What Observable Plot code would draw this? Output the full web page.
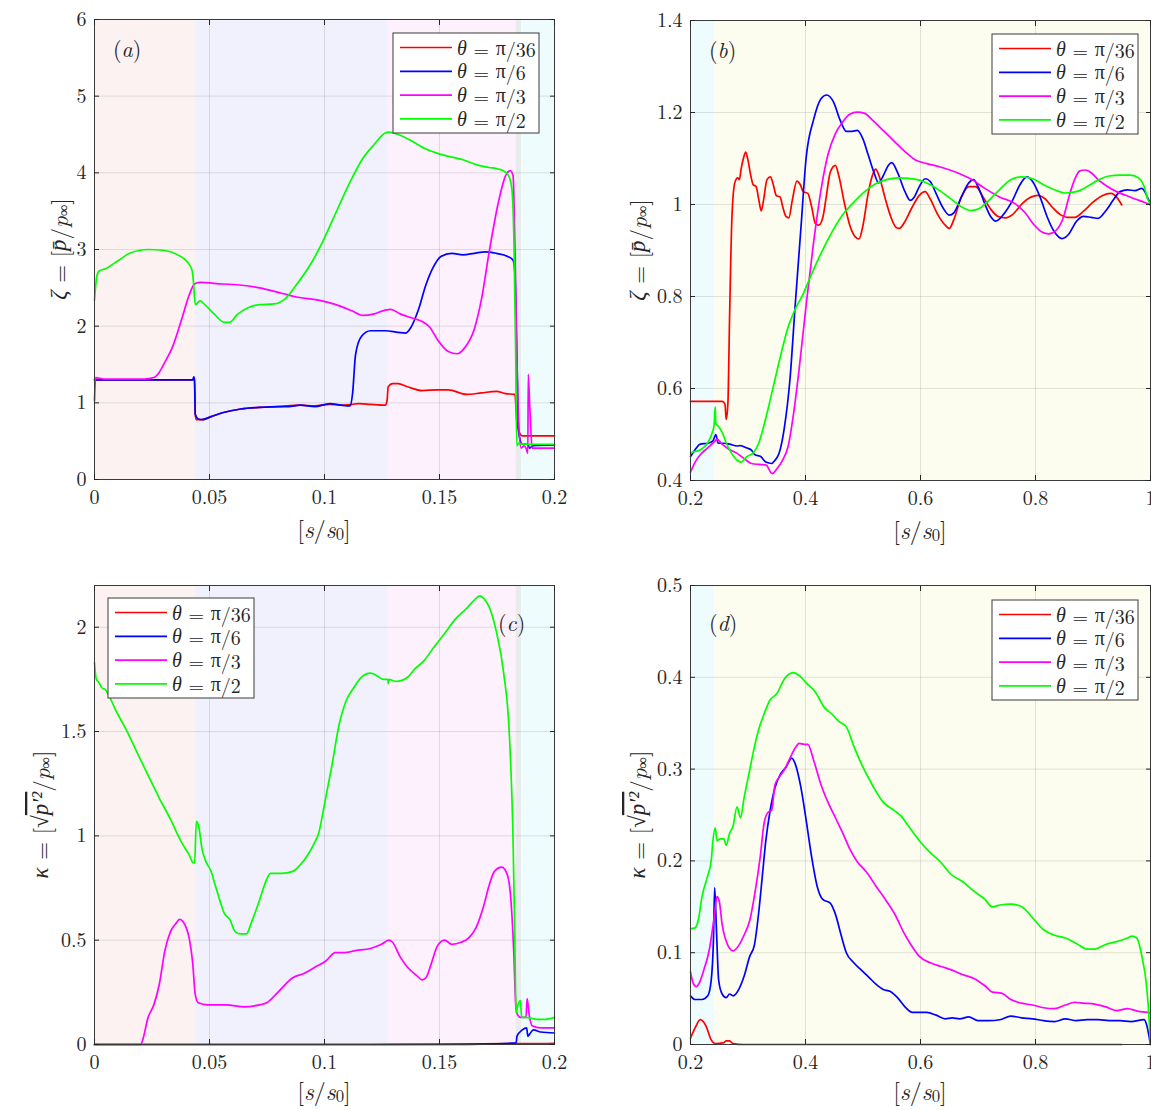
<!DOCTYPE html>
<html><head><meta charset="utf-8">
<script src="https://cdn.jsdelivr.net/npm/d3@7"></script>
<script src="https://cdn.jsdelivr.net/npm/@observablehq/plot@0.6"></script>
<style>
body{margin:0;background:#fff;}
#wrap{position:relative;width:1151px;height:1110px;overflow:hidden;}
#wrap svg{position:absolute;}
</style></head><body><div id="wrap"></div>
<script>
const FONT = "'Latin Modern Roman', 'Liberation Serif', serif";
const GREEK = "'Liberation Serif', serif";
const seriesLabels = ["π/36", "π/6", "π/3", "π/2"];
const seriesColors = ["#ff0000", "#0000ff", "#ff00ff", "#00ff00"];

// x ticks / y ticks
const xTicksLeft = [0, 0.05, 0.1, 0.15, 0.2];
const xTicksRight = [0.2, 0.4, 0.6, 0.8, 1];
const yTicksA = [0, 1, 2, 3, 4, 5, 6];
const yTicksB = [0.4, 0.6, 0.8, 1, 1.2, 1.4];
const yTicksC = [0, 0.5, 1, 1.5, 2];
const yTicksD = [0, 0.1, 0.2, 0.3, 0.4, 0.5];

// background regions [x1, x2, colour]
const regionsLeft = [
  {x1: 0, x2: 0.0438, fill: "#fdf2f2"},
  {x1: 0.0438, x2: 0.1277, fill: "#f1f1fd"},
  {x1: 0.1277, x2: 0.1833, fill: "#fdf1fd"},
  {x1: 0.1833, x2: 0.1857, fill: "#e8ecec"},
  {x1: 0.1857, x2: 0.2, fill: "#effcfd"}
];
const regionsRight = [
  {x1: 0.2, x2: 0.2425, fill: "#effcfd"},
  {x1: 0.2425, x2: 1, fill: "#fdfdef"}
];

// ---- Panel (a): zeta, s in [0, 0.2]
const aRed = [[0,1.30],[0.0427,1.30],[0.0435,1.30],[0.0438,0.85],[0.0443,0.78],[0.0467,0.78],[0.0507,0.82],[0.0556,0.87],[0.0636,0.92],[0.0717,0.94],[0.0797,0.95],[0.0894,0.97],[0.0958,0.96],[0.1023,0.98],[0.1071,0.97],[0.1119,0.98],[0.115,0.99],[0.12,0.98],[0.1264,0.97],[0.1272,1.03],[0.1277,1.21],[0.1296,1.25],[0.132,1.25],[0.1361,1.21],[0.1425,1.16],[0.149,1.17],[0.1538,1.17],[0.1618,1.11],[0.1683,1.13],[0.1747,1.15],[0.1787,1.12],[0.1828,1.11],[0.1836,0.76],[0.1844,0.64],[0.186,0.57],[0.2,0.57]];
const aBlue = [[0,1.30],[0.0427,1.30],[0.0432,1.34],[0.0435,1.30],[0.0438,0.85],[0.0451,0.79],[0.0467,0.78],[0.0507,0.82],[0.0556,0.87],[0.0636,0.92],[0.0717,0.94],[0.0797,0.95],[0.0845,0.95],[0.0894,0.97],[0.0958,0.95],[0.1023,0.99],[0.1071,0.97],[0.1111,0.96],[0.1122,1.12],[0.1135,1.63],[0.1159,1.86],[0.12,1.94],[0.1264,1.94],[0.132,1.92],[0.1353,1.91],[0.1377,1.99],[0.1409,2.22],[0.1441,2.54],[0.1473,2.77],[0.1506,2.91],[0.1554,2.95],[0.1602,2.93],[0.1651,2.95],[0.1699,2.97],[0.1747,2.95],[0.1796,2.91],[0.182,2.86],[0.1828,2.68],[0.1836,1.67],[0.1844,0.62],[0.186,0.46],[0.1884,0.46],[0.1892,0.41],[0.1908,0.44],[0.2,0.45]];
const aMagenta = [[0,1.03],[0.0005,1.33],[0.004,1.31],[0.0217,1.31],[0.0258,1.33],[0.0282,1.40],[0.0306,1.53],[0.0338,1.72],[0.0378,2.08],[0.0411,2.40],[0.0435,2.55],[0.0459,2.57],[0.0556,2.55],[0.062,2.54],[0.0717,2.50],[0.0813,2.43],[0.0878,2.38],[0.0974,2.34],[0.1039,2.29],[0.1119,2.20],[0.1167,2.14],[0.1216,2.16],[0.1264,2.21],[0.1288,2.22],[0.1329,2.16],[0.1377,2.11],[0.1425,2.06],[0.1457,1.99],[0.149,1.83],[0.1538,1.67],[0.1578,1.64],[0.161,1.72],[0.165,1.95],[0.1683,2.36],[0.1715,2.95],[0.1755,3.60],[0.1787,3.96],[0.1808,4.03],[0.182,3.96],[0.1828,3.05],[0.1836,1.67],[0.1844,0.76],[0.1855,0.41],[0.1868,0.44],[0.1876,0.41],[0.1884,0.34],[0.1886,1.37],[0.1892,0.98],[0.1903,0.41],[0.2,0.41]];
const aGreen = [[0,2.34],[0.001,2.65],[0.002,2.72],[0.0048,2.75],[0.0105,2.86],[0.0153,2.95],[0.0233,3.0],[0.0298,2.99],[0.0362,2.93],[0.0403,2.84],[0.0424,2.73],[0.043,2.59],[0.0438,2.28],[0.0459,2.33],[0.0483,2.27],[0.0523,2.15],[0.0564,2.05],[0.0588,2.05],[0.062,2.15],[0.0668,2.24],[0.0717,2.28],[0.0781,2.29],[0.083,2.36],[0.0878,2.54],[0.0942,2.82],[0.099,3.09],[0.1039,3.41],[0.1103,3.83],[0.1167,4.19],[0.1216,4.37],[0.1264,4.52],[0.1277,4.53],[0.1329,4.49],[0.1377,4.42],[0.1441,4.31],[0.1506,4.24],[0.1602,4.17],[0.1667,4.10],[0.1715,4.07],[0.1755,4.05],[0.1787,4.01],[0.1804,3.94],[0.1815,3.78],[0.1824,3.05],[0.1831,1.67],[0.1836,0.44],[0.1844,0.47],[0.186,0.46],[0.2,0.46]];

// ---- Panel (b): zeta, s in [0.2, 1]
const bRed = [[0.2,0.572],[0.255,0.572],[0.26,0.566],[0.262,0.533],[0.265,0.566],[0.268,0.757],[0.272,0.97],[0.277,1.047],[0.282,1.058],[0.285,1.054],[0.288,1.077],[0.292,1.1],[0.296,1.114],[0.3,1.096],[0.305,1.062],[0.309,1.043],[0.314,1.039],[0.319,1.009],[0.323,0.986],[0.327,1.009],[0.333,1.054],[0.339,1.06],[0.344,1.043],[0.349,1.02],[0.356,1.016],[0.36,0.997],[0.366,0.974],[0.371,0.971],[0.377,1.009],[0.385,1.051],[0.391,1.043],[0.396,1.028],[0.404,1.024],[0.411,0.993],[0.417,0.959],[0.423,0.955],[0.43,0.971],[0.436,1.016],[0.443,1.07],[0.452,1.085],[0.458,1.062],[0.468,1.001],[0.477,0.955],[0.487,0.929],[0.493,0.925],[0.5,0.955],[0.509,1.024],[0.516,1.062],[0.522,1.077],[0.528,1.062],[0.538,1.016],[0.547,0.978],[0.557,0.951],[0.563,0.948],[0.573,0.963],[0.585,0.993],[0.598,1.02],[0.608,1.028],[0.617,1.012],[0.63,0.978],[0.643,0.955],[0.65,0.948],[0.658,0.967],[0.671,1.016],[0.684,1.039],[0.696,1.039],[0.709,1.016],[0.722,0.99],[0.735,0.974],[0.748,0.971],[0.76,0.978],[0.776,1.001],[0.792,1.016],[0.804,1.02],[0.817,1.012],[0.83,0.993],[0.843,0.978],[0.855,0.972],[0.868,0.972],[0.884,0.986],[0.9,1.005],[0.916,1.019],[0.931,1.024],[0.941,1.016],[0.95,0.999]];
const bBlue = [[0.2,0.452],[0.208,0.467],[0.217,0.479],[0.23,0.481],[0.239,0.486],[0.244,0.5],[0.248,0.481],[0.258,0.481],[0.268,0.479],[0.281,0.475],[0.287,0.476],[0.297,0.471],[0.306,0.466],[0.312,0.456],[0.322,0.452],[0.331,0.44],[0.341,0.437],[0.347,0.444],[0.354,0.459],[0.363,0.513],[0.373,0.62],[0.382,0.78],[0.392,0.948],[0.401,1.1],[0.414,1.184],[0.427,1.23],[0.437,1.238],[0.449,1.222],[0.46,1.184],[0.471,1.159],[0.481,1.159],[0.49,1.161],[0.5,1.142],[0.509,1.108],[0.519,1.07],[0.527,1.047],[0.535,1.062],[0.544,1.085],[0.55,1.091],[0.56,1.07],[0.573,1.028],[0.582,1.009],[0.589,1.016],[0.598,1.039],[0.608,1.056],[0.617,1.05],[0.627,1.024],[0.639,0.993],[0.65,0.977],[0.658,0.982],[0.671,1.016],[0.684,1.047],[0.692,1.054],[0.7,1.039],[0.712,1.001],[0.722,0.974],[0.731,0.964],[0.744,0.978],[0.76,1.009],[0.773,1.043],[0.785,1.06],[0.795,1.05],[0.808,1.016],[0.82,0.974],[0.833,0.94],[0.846,0.926],[0.858,0.936],[0.871,0.963],[0.884,0.974],[0.897,0.972],[0.909,0.97],[0.922,0.986],[0.935,1.009],[0.947,1.028],[0.96,1.032],[0.973,1.03],[0.985,1.035],[0.99,1.028],[0.996,1.012],[1.0,1.001]];
const bMagenta = [[0.2,0.418],[0.208,0.44],[0.217,0.456],[0.23,0.471],[0.243,0.486],[0.246,0.49],[0.255,0.479],[0.268,0.467],[0.281,0.459],[0.293,0.448],[0.306,0.437],[0.319,0.435],[0.331,0.434],[0.342,0.415],[0.35,0.425],[0.36,0.444],[0.37,0.475],[0.379,0.543],[0.389,0.643],[0.401,0.78],[0.414,0.917],[0.427,1.032],[0.439,1.108],[0.452,1.154],[0.465,1.18],[0.477,1.196],[0.49,1.201],[0.503,1.198],[0.516,1.184],[0.535,1.161],[0.554,1.138],[0.573,1.115],[0.592,1.096],[0.611,1.089],[0.636,1.081],[0.662,1.07],[0.687,1.056],[0.712,1.035],[0.738,1.016],[0.763,1.003],[0.782,0.982],[0.798,0.955],[0.811,0.94],[0.823,0.936],[0.836,0.944],[0.849,0.974],[0.858,1.016],[0.868,1.054],[0.877,1.073],[0.887,1.075],[0.897,1.069],[0.909,1.054],[0.925,1.039],[0.941,1.028],[0.957,1.02],[0.973,1.012],[0.989,1.005],[1.0,0.999]];
const bGreen = [[0.2,0.46],[0.208,0.463],[0.217,0.467],[0.23,0.482],[0.238,0.505],[0.241,0.52],[0.243,0.56],[0.244,0.524],[0.249,0.517],[0.255,0.505],[0.262,0.482],[0.271,0.46],[0.281,0.444],[0.288,0.44],[0.298,0.452],[0.309,0.46],[0.319,0.482],[0.331,0.536],[0.344,0.604],[0.357,0.673],[0.37,0.734],[0.382,0.772],[0.395,0.803],[0.408,0.841],[0.427,0.894],[0.446,0.94],[0.465,0.978],[0.484,1.005],[0.503,1.028],[0.522,1.045],[0.541,1.054],[0.56,1.058],[0.579,1.057],[0.598,1.053],[0.617,1.043],[0.636,1.028],[0.655,1.01],[0.674,0.993],[0.687,0.987],[0.7,0.99],[0.719,1.009],[0.738,1.033],[0.757,1.054],[0.776,1.06],[0.795,1.056],[0.814,1.043],[0.833,1.032],[0.852,1.025],[0.871,1.028],[0.89,1.039],[0.909,1.053],[0.928,1.062],[0.947,1.064],[0.966,1.064],[0.979,1.058],[0.989,1.039],[0.995,1.012],[1.0,1.001]];

// ---- Panel (c): kappa, s in [0, 0.2]
const cRed = [[0,0],[0.12,0],[0.16,0.002],[0.183,0.004],[0.19,0.004],[0.2,0.006]];
const cBlue = [[0,0],[0.15,0],[0.175,0.003],[0.1833,0.008],[0.1837,0.04],[0.186,0.07],[0.1879,0.08],[0.1884,0.04],[0.1892,0.05],[0.1908,0.07],[0.194,0.06],[0.2,0.055]];
const cMagenta = [[0,0],[0.0201,0],[0.0209,0.02],[0.0233,0.13],[0.0258,0.19],[0.0282,0.29],[0.0306,0.45],[0.033,0.54],[0.0354,0.58],[0.037,0.60],[0.0395,0.57],[0.0415,0.49],[0.0427,0.39],[0.0438,0.24],[0.0451,0.20],[0.0491,0.19],[0.0572,0.19],[0.0652,0.18],[0.0717,0.19],[0.0749,0.20],[0.0797,0.25],[0.0862,0.32],[0.091,0.34],[0.0958,0.37],[0.1006,0.40],[0.1047,0.44],[0.1087,0.44],[0.1135,0.45],[0.12,0.46],[0.1248,0.48],[0.128,0.50],[0.1296,0.49],[0.1329,0.42],[0.1361,0.37],[0.1401,0.33],[0.1425,0.31],[0.1441,0.32],[0.1465,0.39],[0.149,0.47],[0.1522,0.50],[0.1554,0.48],[0.1594,0.49],[0.1626,0.51],[0.1659,0.56],[0.1691,0.66],[0.1715,0.76],[0.1739,0.83],[0.1771,0.85],[0.1796,0.81],[0.1812,0.67],[0.1823,0.44],[0.1831,0.20],[0.1836,0.15],[0.1852,0.13],[0.1876,0.13],[0.1881,0.22],[0.1889,0.15],[0.1903,0.09],[0.194,0.08],[0.2,0.08]];
const cGreen = [[0,1.83],[0.0008,1.75],[0.0016,1.74],[0.0032,1.71],[0.0048,1.70],[0.0064,1.67],[0.0089,1.61],[0.0137,1.51],[0.0185,1.40],[0.0233,1.29],[0.0282,1.18],[0.033,1.08],[0.0378,0.97],[0.0411,0.91],[0.043,0.87],[0.0435,0.87],[0.0443,1.07],[0.0454,1.04],[0.0467,0.94],[0.0483,0.88],[0.0507,0.83],[0.0523,0.77],[0.0548,0.68],[0.0564,0.63],[0.0588,0.60],[0.0612,0.54],[0.0636,0.53],[0.066,0.53],[0.0684,0.59],[0.0717,0.69],[0.0741,0.77],[0.0765,0.82],[0.0813,0.82],[0.0862,0.83],[0.0894,0.86],[0.0934,0.92],[0.0958,0.97],[0.0974,1.01],[0.0998,1.14],[0.1031,1.33],[0.1063,1.53],[0.1095,1.65],[0.1127,1.71],[0.116,1.76],[0.12,1.78],[0.1224,1.77],[0.1256,1.75],[0.1275,1.75],[0.1277,1.73],[0.128,1.75],[0.1312,1.74],[0.1361,1.76],[0.1393,1.80],[0.1433,1.84],[0.1473,1.90],[0.1522,1.97],[0.157,2.04],[0.1618,2.09],[0.1651,2.13],[0.1675,2.15],[0.1691,2.14],[0.1715,2.10],[0.1747,1.98],[0.1779,1.78],[0.1804,1.48],[0.182,0.97],[0.1828,0.47],[0.1833,0.15],[0.1841,0.19],[0.1852,0.21],[0.1857,0.13],[0.1876,0.13],[0.1924,0.12],[0.1957,0.12],[0.2,0.13]];

// ---- Panel (d): kappa, s in [0.2, 1]
const dRed = [[0.2,0.007],[0.208,0.018],[0.217,0.027],[0.227,0.02],[0.236,0.005],[0.243,0.001],[0.258,0.002],[0.262,0.004],[0.268,0.004],[0.274,0.001],[0.293,0.0],[0.95,0.0]];
const dBlue = [[0.2,0.053],[0.208,0.049],[0.22,0.049],[0.23,0.053],[0.236,0.07],[0.24,0.116],[0.242,0.171],[0.245,0.127],[0.249,0.07],[0.255,0.055],[0.262,0.051],[0.268,0.055],[0.274,0.053],[0.284,0.06],[0.293,0.074],[0.303,0.096],[0.311,0.108],[0.319,0.146],[0.325,0.184],[0.331,0.222],[0.338,0.253],[0.347,0.28],[0.357,0.295],[0.366,0.302],[0.376,0.312],[0.382,0.306],[0.392,0.28],[0.401,0.245],[0.411,0.203],[0.42,0.173],[0.43,0.158],[0.443,0.154],[0.452,0.142],[0.462,0.119],[0.471,0.1],[0.484,0.089],[0.497,0.081],[0.509,0.074],[0.522,0.066],[0.535,0.06],[0.547,0.058],[0.56,0.051],[0.573,0.041],[0.586,0.035],[0.598,0.035],[0.611,0.035],[0.627,0.032],[0.643,0.028],[0.655,0.029],[0.668,0.028],[0.684,0.03],[0.7,0.026],[0.719,0.026],[0.738,0.027],[0.757,0.031],[0.776,0.029],[0.795,0.028],[0.814,0.026],[0.833,0.025],[0.852,0.028],[0.871,0.026],[0.89,0.027],[0.909,0.027],[0.928,0.026],[0.947,0.026],[0.966,0.025],[0.989,0.027],[0.992,0.024],[1.0,0.0]];
const dMagenta = [[0.2,0.079],[0.204,0.068],[0.21,0.063],[0.216,0.068],[0.223,0.081],[0.233,0.104],[0.241,0.138],[0.246,0.161],[0.25,0.156],[0.255,0.131],[0.265,0.108],[0.274,0.102],[0.284,0.108],[0.293,0.119],[0.303,0.135],[0.312,0.165],[0.321,0.203],[0.328,0.241],[0.335,0.253],[0.341,0.255],[0.347,0.283],[0.354,0.291],[0.363,0.299],[0.373,0.312],[0.382,0.323],[0.389,0.328],[0.398,0.327],[0.404,0.327],[0.414,0.31],[0.427,0.283],[0.439,0.264],[0.452,0.247],[0.465,0.23],[0.477,0.213],[0.49,0.199],[0.506,0.188],[0.522,0.173],[0.541,0.156],[0.557,0.14],[0.57,0.123],[0.582,0.11],[0.598,0.096],[0.617,0.089],[0.636,0.085],[0.655,0.081],[0.674,0.076],[0.693,0.072],[0.712,0.064],[0.725,0.057],[0.741,0.056],[0.757,0.049],[0.776,0.045],[0.795,0.043],[0.814,0.04],[0.833,0.039],[0.852,0.043],[0.868,0.046],[0.884,0.045],[0.903,0.044],[0.922,0.041],[0.941,0.037],[0.96,0.039],[0.979,0.036],[0.995,0.035],[1.0,0.034]];
const dGreen = [[0.2,0.126],[0.208,0.127],[0.214,0.137],[0.22,0.161],[0.23,0.184],[0.236,0.2],[0.239,0.222],[0.243,0.236],[0.246,0.222],[0.252,0.224],[0.258,0.224],[0.262,0.217],[0.268,0.23],[0.274,0.238],[0.281,0.259],[0.287,0.247],[0.293,0.268],[0.303,0.299],[0.309,0.318],[0.319,0.344],[0.328,0.36],[0.338,0.375],[0.35,0.382],[0.363,0.398],[0.379,0.405],[0.389,0.402],[0.401,0.394],[0.417,0.384],[0.433,0.367],[0.446,0.36],[0.458,0.352],[0.471,0.346],[0.484,0.325],[0.497,0.306],[0.516,0.283],[0.535,0.264],[0.554,0.255],[0.566,0.249],[0.579,0.238],[0.598,0.222],[0.617,0.209],[0.636,0.198],[0.652,0.186],[0.674,0.177],[0.693,0.167],[0.712,0.158],[0.725,0.15],[0.738,0.152],[0.757,0.153],[0.776,0.15],[0.795,0.138],[0.814,0.125],[0.833,0.119],[0.852,0.116],[0.871,0.11],[0.89,0.104],[0.903,0.104],[0.922,0.109],[0.941,0.112],[0.96,0.116],[0.968,0.118],[0.976,0.116],[0.986,0.093],[0.992,0.07],[0.996,0.043],[1.0,0.0]];

const wrap = document.getElementById("wrap");
const AX = "#262626";

function addText(g, x, y, parts, size, opts = {}) {
  const t = g.append("text").attr("x", x).attr("y", y)
    .style("font-family", FONT).attr("font-size", size).attr("fill", opts.fill || AX)
    .attr("text-anchor", opts.anchor || "start")
    .attr("dominant-baseline", "central");
  if (opts.rotate) t.attr("transform", `rotate(${opts.rotate},${x},${y})`);
  let shift = 0;
  for (const p of parts) {
    const s = t.append("tspan").text(p.t);
    if (p.i) s.attr("font-style", "italic");
    if (p.g) s.style("font-family", GREEK);
    if (p.sub) {
      const d = size * 0.22;
      s.attr("dy", d - shift).attr("font-size", size * 0.7);
      shift = d;
    } else if (shift) {
      s.attr("dy", -shift);
      shift = 0;
    }
    if (p.o) s.attr("text-decoration", "overline");
  }
  return t;
}

function makePanel(cfg) {
  const {W, H, ml, mr, mt, mb, left, top} = cfg;
  const fw = W - ml - mr, fh = H - mt - mb;
  const fmt = d => String(d);
  const lines = cfg.series.map((arr, i) => Plot.line(arr, {x: p => p[0], y: p => p[1], stroke: seriesColors[i], strokeWidth: 1.7, curve: "monotone-x"}));
  const chart = Plot.plot({
    width: W, height: H, marginLeft: ml, marginRight: mr, marginTop: mt, marginBottom: mb,
    style: {fontFamily: FONT, fontSize: "20px", color: AX, background: "white", overflow: "visible"},
    x: {domain: cfg.xDomain, label: null},
    y: {domain: cfg.yDomain, label: null},
    color: {type: "identity"},
    marks: [
      Plot.rect(cfg.regions, {x1: "x1", x2: "x2", fill: "fill"}),
      Plot.gridX(cfg.xTicks, {stroke: AX, strokeOpacity: 0.13}),
      Plot.gridY(cfg.yTicks, {stroke: AX, strokeOpacity: 0.13}),
      ...lines,
      Plot.frame({stroke: "#3a3a3a"}),
      Plot.axisX(cfg.xTicks, {anchor: "bottom", tickSize: 0, tickPadding: 10, tickFormat: fmt, label: null}),
      Plot.axisX(cfg.xTicks, {anchor: "bottom", tickSize: 5, dy: -5, fill: "none", label: null}),
      Plot.axisX(cfg.xTicks, {anchor: "top", tickSize: 5, dy: 5, fill: "none", label: null}),
      Plot.axisY(cfg.yTicks, {anchor: "left", tickSize: 0, tickPadding: 8, tickFormat: fmt, label: null}),
      Plot.axisY(cfg.yTicks, {anchor: "left", tickSize: 5, dx: 5, fill: "none", label: null}),
      Plot.axisY(cfg.yTicks, {anchor: "right", tickSize: 5, dx: -5, fill: "none", label: null})
    ]
  });
  chart.style.left = left + "px";
  chart.style.top = top + "px";
  wrap.appendChild(chart);
  const svg = d3.select(chart);
  // x title
  addText(svg, ml + fw / 2, mt + fh + cfg.xTitleDy, [{t: "["}, {t: "s", i: 1}, {t: "/"}, {t: "s", i: 1}, {t: "0", sub: 1}, {t: "]"}], 24, {anchor: "middle"});
  // y title
  addText(svg, cfg.yLabelX, mt + fh / 2, cfg.yLabel, 23, {anchor: "middle", rotate: -90});
  // panel tag
  addText(svg, ml + cfg.tag[1], mt + cfg.tag[2], [{t: "("}, {t: cfg.tag[0], i: 1}, {t: ")"}], 22);
  // legend
  const lg = svg.append("g").attr("transform", `translate(${ml + cfg.legend[0]},${mt + cfg.legend[1]})`);
  lg.append("rect").attr("x", 0).attr("y", 0).attr("width", 146).attr("height", 100)
    .attr("fill", "white").attr("stroke", "#3a3a3a").attr("stroke-width", 1);
  seriesLabels.forEach((lab, i) => {
    const y = 14.5 + i * 23.8;
    lg.append("line").attr("x1", 7).attr("x2", 59).attr("y1", y).attr("y2", y)
      .attr("stroke", seriesColors[i]).attr("stroke-width", 1.7);
    addText(lg, 64, y, [{t: "θ", i: 1, g: 1}, {t: " = "}, {t: "π", g: 1}, {t: lab.slice(1)}], 20);
  });
}

const zetaLabel = [{t: "ζ", i: 1, g: 1}, {t: " = ["}, {t: "p\u0304", i: 1, g: 1}, {t: "/"}, {t: "p", i: 1}, {t: "∞", sub: 1, g: 1}, {t: "]"}];
const kappaLabel = [{t: "κ", i: 1, g: 1}, {t: " = ["}, {t: "√", g: 1}, {t: "p′²", i: 1, o: 1, g: 1}, {t: "/"}, {t: "p", i: 1}, {t: "∞", sub: 1, g: 1}, {t: "]"}];

makePanel({W: 575, H: 555, ml: 94, mr: 21, mt: 19, mb: 76, left: 0, top: 0,
  xDomain: [0, 0.2], yDomain: [0, 6], xTicks: xTicksLeft, yTicks: yTicksA, regions: regionsLeft,
  series: [aRed, aBlue, aMagenta, aGreen], yLabel: zetaLabel, yLabelX: 58, xTitleDy: 49,
  tag: ["a", 19, 28], legend: [299, 14]});
makePanel({W: 576, H: 555, ml: 115, mr: 1, mt: 20, mb: 75, left: 575, top: 0,
  xDomain: [0.2, 1], yDomain: [0.4, 1.4], xTicks: xTicksRight, yTicks: yTicksB, regions: regionsRight,
  series: [bRed, bBlue, bMagenta, bGreen], yLabel: zetaLabel, yLabelX: 62, xTitleDy: 49,
  tag: ["b", 19, 28], legend: [302, 14]});
makePanel({W: 575, H: 555, ml: 94, mr: 21, mt: 30, mb: 66, left: 0, top: 555,
  xDomain: [0, 0.2], yDomain: [0, 2.2], xTicks: xTicksLeft, yTicks: yTicksC, regions: regionsLeft,
  series: [cRed, cBlue, cMagenta, cGreen], yLabel: kappaLabel, yLabelX: 40, xTitleDy: 46,
  tag: ["c", 404, 36], legend: [14, 13]});
makePanel({W: 576, H: 555, ml: 115, mr: 1, mt: 30, mb: 66, left: 575, top: 555,
  xDomain: [0.2, 1], yDomain: [0, 0.5], xTicks: xTicksRight, yTicks: yTicksD, regions: regionsRight,
  series: [dRed, dBlue, dMagenta, dGreen], yLabel: kappaLabel, yLabelX: 62, xTitleDy: 46,
  tag: ["d", 19, 36], legend: [302, 15]});
</script>
</body></html>
